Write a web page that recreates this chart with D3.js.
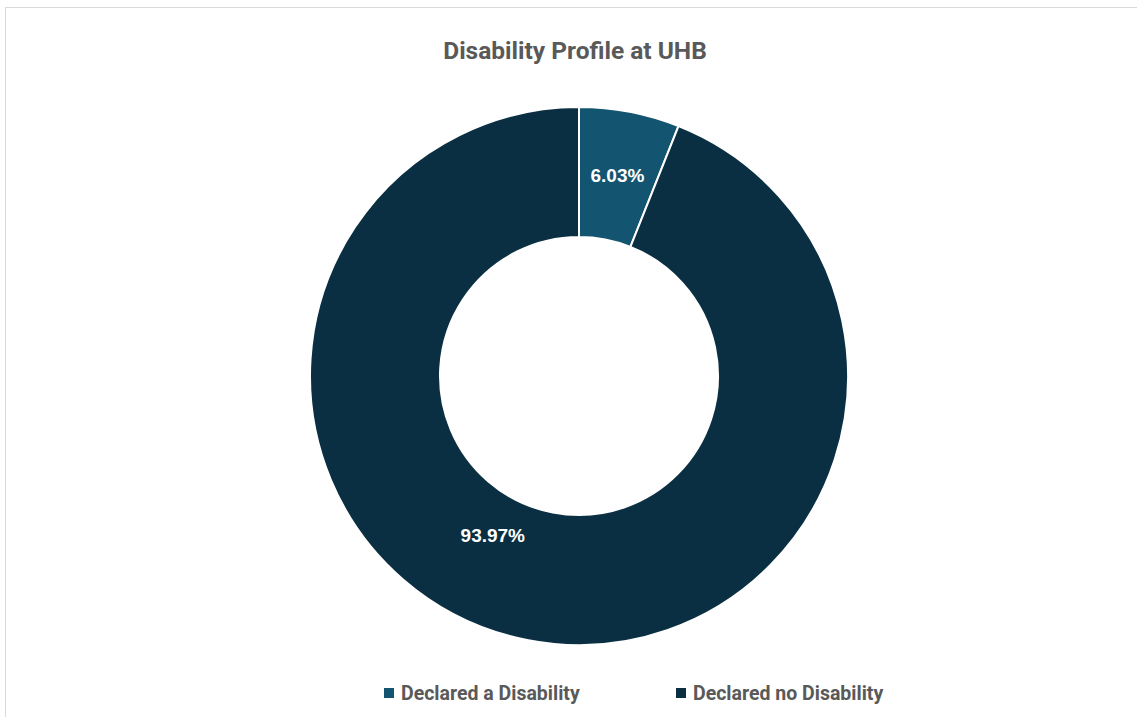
<!DOCTYPE html>
<html>
<head>
<meta charset="utf-8">
<script src="https://cdn.jsdelivr.net/npm/d3@7"></script>
<style>
  html, body { margin: 0; padding: 0; background: #fff; }
  svg { display: block; }
</style>
</head>
<body>
<svg id="chart" width="1137" height="717"></svg>
<script>
const categories = ["Declared a Disability", "Declared no Disability"];
const values = [6.03, 93.97];
const labels = ["6.03%", "93.97%"];
const colors = ["#135470", "#0b2f42"];
const title = "Disability Profile at UHB";

const W = 1137, H = 717;
const cx = 579, cy = 376, rOuter = 269, rInner = 139;
// label placement (fraction of slice span, radius) mimicking Excel
const labelPlace = [{f: 0.5, r: 204}, {f: 0.552, r: 181}];

const svg = d3.select("#chart");

// chart border
svg.append("rect")
  .attr("x", 5.5).attr("y", 7.5)
  .attr("width", W + 10).attr("height", H + 10)
  .attr("fill", "#fff").attr("stroke", "#d9d9d9").attr("stroke-width", 1);

svg.append("text")
  .attr("x", 575).attr("y", 59)
  .attr("text-anchor", "middle")
  .attr("font-family", "Roboto, 'Open Sans', sans-serif")
  .attr("font-weight", 700)
  .attr("font-size", 24.5)
  .attr("fill", "#595959")
  .text(title);

const pie = d3.pie().sort(null).value(d => d)(values);
const arc = d3.arc().innerRadius(rInner).outerRadius(rOuter);

const g = svg.append("g").attr("transform", `translate(${cx},${cy})`);
g.selectAll("path.slice").data(pie).join("path")
  .attr("class", "slice")
  .attr("d", arc)
  .attr("fill", (d, i) => colors[i])
  .attr("stroke", "#fff").attr("stroke-width", 2);

g.selectAll("text.lbl").data(pie).join("text")
  .attr("class", "lbl")
  .attr("transform", (d, i) => {
    const p = labelPlace[i];
    const a = d.startAngle + p.f * (d.endAngle - d.startAngle);
    return `translate(${p.r * Math.sin(a)},${-p.r * Math.cos(a)})`;
  })
  .attr("text-anchor", "middle")
  .attr("dy", "0.35em")
  .attr("font-family", "'Liberation Sans', Arial, sans-serif")
  .attr("font-weight", 700)
  .attr("font-size", 19)
  .attr("fill", "#fff")
  .text((d, i) => labels[i]);

// legend
const legendX = [384, 676];
const lg = svg.selectAll("g.leg").data(categories).join("g")
  .attr("class", "leg")
  .attr("transform", (d, i) => `translate(${legendX[i]},688)`);
lg.append("rect").attr("width", 10).attr("height", 10).attr("fill", (d, i) => colors[i]);
lg.append("text")
  .attr("x", 17).attr("y", 12)
  .attr("font-family", "Roboto, 'Open Sans', sans-serif")
  .attr("font-weight", 700)
  .attr("font-size", 19.5)
  .attr("fill", "#595959")
  .text(d => d);
</script>
</body>
</html>
